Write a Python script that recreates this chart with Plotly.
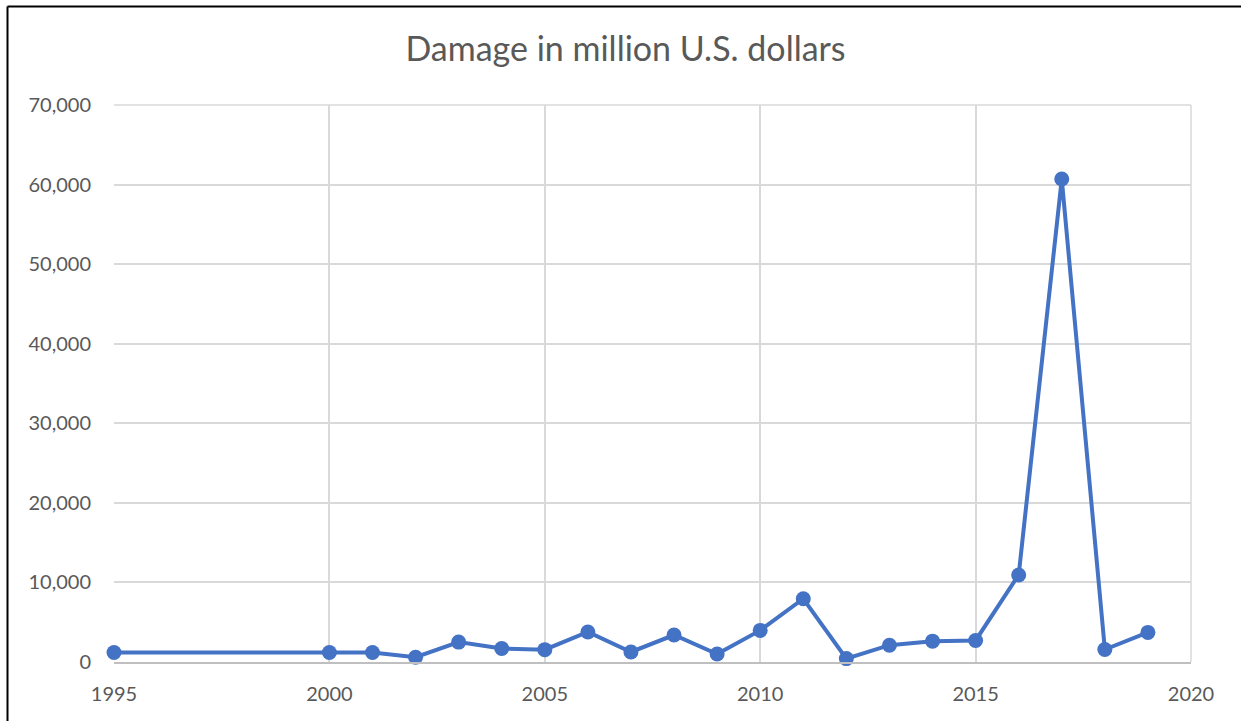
import plotly.graph_objects as go

years = [1995, 2000, 2001, 2002, 2003, 2004, 2005, 2006, 2007, 2008, 2009, 2010,
         2011, 2012, 2013, 2014, 2015, 2016, 2017, 2018, 2019]
damage = [1200, 1200, 1200, 600, 2500, 1700, 1550, 3770, 1260, 3390, 1000, 3970,
          7950, 430, 2110, 2620, 2710, 10940, 60700, 1570, 3720]
title_text = "Damage in million U.S. dollars"

W, H = 1241, 721
L, R, T, B = 114, 50, 105, 59
pw, ph = W - L - R, H - T - B

def px(x):
    return (x - L) / pw

def py(y):
    return (H - B - y) / ph

fig = go.Figure()
fig.add_trace(go.Scatter(
    x=years, y=damage, mode="lines+markers",
    line=dict(color="#4472C4", width=4),
    marker=dict(color="#4472C4", size=15),
    showlegend=False, cliponaxis=False,
))

font_family = "Lato, Open Sans, sans-serif"
fig.update_layout(
    width=W, height=H,
    margin=dict(l=L, r=R, t=T, b=B),
    paper_bgcolor="white", plot_bgcolor="white",
    title=dict(text=title_text, x=(W / 2 + 5) / W, xanchor="center",
               y=1 - 49 / H, yanchor="middle",
               font=dict(family=font_family, size=34, color="#595959")),
    font=dict(family=font_family, size=20, color="#595959"),
    xaxis=dict(range=[1995, 2020], tickvals=[1995, 2000, 2005, 2010, 2015, 2020],
               showgrid=True, gridcolor="#d9d9d9", gridwidth=1.5,
               showline=True, linecolor="#bfbfbf", linewidth=1.5,
               zeroline=False, ticks="", ticklabelstandoff=13, mirror=False,
               tickfont=dict(size=20, color="#595959")),
    yaxis=dict(range=[0, 70000], tickvals=list(range(0, 70001, 10000)),
               tickformat=",d", showgrid=True, gridcolor="#d9d9d9", gridwidth=1.5,
               zeroline=False, showline=False, ticks="", ticklabelstandoff=22,
               tickfont=dict(size=20, color="#595959")),
    shapes=[
        dict(type="line", xref="paper", yref="paper",
             x0=px(7.5), x1=px(7.5), y0=py(6.5), y1=py(740),
             line=dict(color="black", width=2)),
        dict(type="line", xref="paper", yref="paper",
             x0=px(7.5), x1=px(1260), y0=py(6.5), y1=py(6.5),
             line=dict(color="black", width=2)),
        dict(type="line", xref="paper", yref="paper",
             x0=1, x1=1, y0=0, y1=1,
             line=dict(color="#d9d9d9", width=1.5)),
        dict(type="line", xref="paper", yref="paper",
             x0=0, x1=1, y0=1, y1=1,
             line=dict(color="#d9d9d9", width=1.5)),
    ],
)

fig.write_html("out.html")
